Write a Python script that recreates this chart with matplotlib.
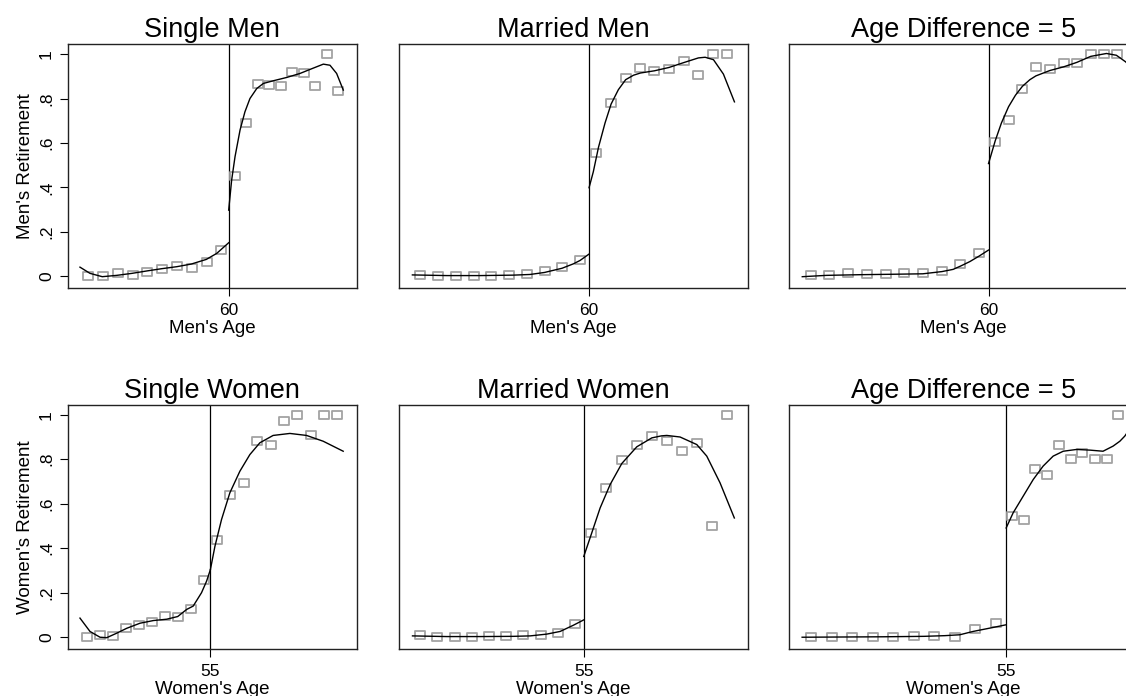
import matplotlib
matplotlib.use('Agg')
import matplotlib.pyplot as plt
from matplotlib.path import Path
import numpy as np

plt.rcParams['font.family'] = ['Liberation Sans', 'DejaVu Sans']

# ---- Single men (cutoff 60) ----
sm_age_pre = [50.5, 51.5, 52.5, 53.5, 54.5, 55.5, 56.5, 57.5, 58.5, 59.5]
sm_ret_pre = [0.0, 0.0, 0.012, 0.005, 0.02, 0.03, 0.045, 0.038, 0.062, 0.117]
sm_age_post = [60.45, 61.2, 61.96, 62.75, 63.54, 64.31, 65.08, 65.87, 66.66, 67.43]
sm_ret_post = [0.45, 0.69, 0.865, 0.86, 0.856, 0.92, 0.913, 0.856, 1.0, 0.833]
sm_fit_lx = [49.93, 50.61, 51.44, 52.42, 53.45, 54.47, 55.46, 56.48, 57.47, 58.49, 59.19, 60.0]
sm_fit_ly = [0.04, 0.012, -0.003, 0.003, 0.012, 0.023, 0.033, 0.042, 0.054, 0.075, 0.102, 0.15]
sm_fit_rx = [60.0, 60.2, 60.43, 60.77, 61.1, 61.44, 61.9, 62.35, 63.02, 63.93, 64.83, 65.5, 66.41, 66.86, 67.31, 67.76]
sm_fit_ry = [0.297, 0.432, 0.538, 0.658, 0.74, 0.8, 0.845, 0.868, 0.88, 0.895, 0.913, 0.931, 0.955, 0.95, 0.913, 0.838]

# ---- Married men ----
mm_age_pre = [50.5, 51.5, 52.5, 53.5, 54.5, 55.5, 56.5, 57.5, 58.5, 59.5]
mm_ret_pre = [0.003, 0.0, 0.0, 0.0, 0.0, 0.005, 0.008, 0.022, 0.042, 0.072]
mm_age_post = [60.39, 61.24, 62.06, 62.89, 63.68, 64.5, 65.33, 66.15, 66.96, 67.77]
mm_ret_post = [0.556, 0.78, 0.892, 0.937, 0.923, 0.932, 0.971, 0.904, 1.0, 1.0]
mm_fit_lx = [50.06, 51.99, 53.87, 55.74, 56.68, 57.49, 58.48, 59.12, 59.49, 60.0]
mm_fit_ly = [0.005, 0.002, 0.002, 0.004, 0.007, 0.016, 0.035, 0.055, 0.07, 0.099]
mm_fit_rx = [60.0, 60.24, 60.53, 60.9, 61.24, 61.65, 62.06, 62.5, 62.89, 63.68, 64.5, 65.33, 66.15, 66.53, 67.0, 67.56, 68.18]
mm_fit_ry = [0.398, 0.47, 0.58, 0.69, 0.775, 0.84, 0.885, 0.905, 0.915, 0.925, 0.94, 0.962, 0.983, 0.986, 0.975, 0.91, 0.785]

# ---- Men, age difference = 5 ----
md_age_pre = [50.5, 51.5, 52.5, 53.5, 54.5, 55.5, 56.5, 57.5, 58.5, 59.5]
md_ret_pre = [0.003, 0.003, 0.015, 0.009, 0.009, 0.012, 0.012, 0.024, 0.053, 0.102]
md_age_post = [60.36, 61.07, 61.81, 62.53, 63.27, 64.02, 64.72, 65.46, 66.17, 66.89]
md_ret_post = [0.605, 0.703, 0.845, 0.943, 0.935, 0.958, 0.958, 1.0, 1.0, 1.0]
md_fit_lx = [50.05, 51.35, 53.13, 54.91, 56.49, 57.51, 58.11, 58.51, 59.0, 59.5, 60.0]
md_fit_ly = [-0.003, 0.003, 0.006, 0.008, 0.01, 0.02, 0.03, 0.045, 0.065, 0.09, 0.117]
md_fit_rx = [60.0, 60.36, 60.69, 61.07, 61.44, 61.81, 62.21, 62.53, 63.27, 64.02, 64.72, 65.46, 66.3, 66.83, 67.33, 67.72]
md_fit_ry = [0.507, 0.61, 0.69, 0.763, 0.815, 0.855, 0.885, 0.902, 0.926, 0.943, 0.963, 0.99, 1.003, 0.995, 0.965, 0.93]

# ---- Single women (cutoff 55) ----
sw_age_pre = [45.5, 46.5, 47.5, 48.5, 49.5, 50.5, 51.5, 52.5, 53.5, 54.5]
sw_ret_pre = [0.0, 0.012, 0.006, 0.04, 0.053, 0.069, 0.096, 0.092, 0.126, 0.257]
sw_age_post = [55.51, 56.54, 57.59, 58.59, 59.64, 60.64, 61.67, 62.72, 63.74, 64.77]
sw_ret_post = [0.438, 0.641, 0.691, 0.881, 0.865, 0.974, 1.0, 0.91, 1.0, 1.0]
sw_fit_lx = [44.97, 45.74, 46.51, 47.03, 47.79, 48.56, 49.59, 50.62, 51.64, 52.49, 53.18, 53.68, 54.32, 54.71, 55.0]
sw_fit_ly = [0.086, 0.026, 0.0, -0.002, 0.018, 0.04, 0.063, 0.075, 0.081, 0.093, 0.125, 0.14, 0.2, 0.252, 0.303]
sw_fit_rx = [55.0, 55.35, 55.86, 56.5, 57.27, 58.04, 58.81, 59.83, 61.12, 62.4, 63.68, 65.22]
sw_fit_ry = [0.303, 0.408, 0.529, 0.649, 0.746, 0.821, 0.874, 0.907, 0.916, 0.907, 0.881, 0.836]

# ---- Married women ----
mw_age_pre = [45.5, 46.5, 47.5, 48.5, 49.5, 50.5, 51.5, 52.5, 53.5, 54.5]
mw_ret_pre = [0.009, 0.0, 0.0, 0.003, 0.005, 0.005, 0.009, 0.011, 0.021, 0.059]
mw_age_post = [55.43, 56.32, 57.21, 58.08, 58.95, 59.82, 60.69, 61.56, 62.43, 63.32]
mw_ret_post = [0.47, 0.67, 0.797, 0.862, 0.905, 0.88, 0.838, 0.874, 0.498, 1.0]
mw_fit_lx = [45.06, 47.05, 48.98, 50.92, 51.89, 52.85, 53.63, 54.4, 55.0]
mw_fit_ly = [0.006, 0.003, 0.003, 0.004, 0.006, 0.014, 0.026, 0.054, 0.078]
mw_fit_rx = [55.0, 55.43, 55.95, 56.53, 57.21, 58.08, 58.95, 59.5, 59.82, 60.59, 61.56, 62.14, 62.91, 63.74]
mw_fit_ry = [0.363, 0.461, 0.581, 0.686, 0.781, 0.856, 0.896, 0.905, 0.907, 0.9, 0.866, 0.814, 0.694, 0.536]

# ---- Women, age difference = 5 ----
wd_age_pre = [45.5, 46.5, 47.5, 48.5, 49.5, 50.5, 51.5, 52.5, 53.5, 54.5]
wd_ret_pre = [0.0, 0.0, 0.0, 0.002, 0.0, 0.005, 0.005, 0.0, 0.036, 0.062]
wd_age_post = [55.29, 55.86, 56.43, 57.0, 57.58, 58.17, 58.72, 59.32, 59.89, 60.47]
wd_ret_post = [0.545, 0.527, 0.754, 0.73, 0.865, 0.799, 0.83, 0.799, 0.799, 1.0]
wd_fit_lx = [45.06, 47.0, 49.0, 51.0, 52.0, 52.74, 53.39, 54.37, 55.0]
wd_fit_ly = [0.0, 0.001, 0.002, 0.004, 0.007, 0.011, 0.026, 0.044, 0.056]
wd_fit_rx = [55.0, 55.34, 55.83, 56.32, 56.8, 57.29, 57.78, 58.43, 59.08, 59.72, 60.21, 60.54, 60.78, 61.2]
wd_fit_ry = [0.491, 0.559, 0.634, 0.709, 0.769, 0.814, 0.836, 0.844, 0.841, 0.836, 0.859, 0.881, 0.904, 0.96]

yticks = [0, 0.2, 0.4, 0.6, 0.8, 1.0]
ytick_labels = ['0', '.2', '.4', '.6', '.8', '1']

# slightly wide hollow square
box = Path([(-0.59, -0.5), (0.59, -0.5), (0.59, 0.5), (-0.59, 0.5), (-0.59, -0.5)],
           [Path.MOVETO, Path.LINETO, Path.LINETO, Path.LINETO, Path.CLOSEPOLY])


def drawPanel(fig, rect, title, cutoff, xlim, ylim, pre, post, fitL, fitR, xlabel, ylabel=None):
    ax = fig.add_axes(rect)
    ax.plot(pre[0] + post[0], pre[1] + post[1], linestyle='none', marker=box,
            markersize=7.0, markerfacecolor='none', markeredgecolor='#a3a3a3',
            markeredgewidth=1.3, zorder=2)
    ax.plot(fitL[0], fitL[1], color='black', lw=1.0, zorder=3)
    ax.plot(fitR[0], fitR[1], color='black', lw=1.0, zorder=3)
    ax.axvline(cutoff, color='black', lw=0.9, zorder=1)
    ax.set_xlim(xlim)
    ax.set_ylim(ylim)
    ax.set_xticks([cutoff])
    ax.set_xticklabels([str(cutoff)])
    ax.tick_params(axis='x', length=6, width=0.8, pad=4.5, labelsize=12.5)
    if ylabel:
        ax.set_yticks(yticks)
        ax.set_yticklabels(ytick_labels)
        ax.tick_params(axis='y', length=6, width=0.8, pad=4.0, labelsize=12.5, labelrotation=90)
        for lab in ax.get_yticklabels():
            lab.set_va('center')
        ax.set_ylabel(ylabel, fontsize=13.5)
        ax.yaxis.set_label_coords(-0.118, 0.5)
    else:
        ax.set_yticks([])
    ax.set_title(title, fontsize=19.5, pad=5)
    ax.set_xlabel(xlabel, fontsize=13.5)
    ax.xaxis.set_label_coords(0.5, -0.131)
    for sp in ax.spines.values():
        sp.set_linewidth(1.0)
        sp.set_color('#222222')
    return ax


def main():
    fig = plt.figure(figsize=(11.26, 6.96), dpi=100)
    fig.patch.set_facecolor('white')

    topY, botY, h = 0.5862, 0.0675, 0.3513
    ytop = (-0.054, 1.048)
    ybot = (-0.053, 1.046)

    drawPanel(fig, [0.0604, topY, 0.2564, h], 'Single Men', 60, (49.12, 68.67), ytop,
              (sm_age_pre, sm_ret_pre), (sm_age_post, sm_ret_post),
              (sm_fit_lx, sm_fit_ly), (sm_fit_rx, sm_fit_ry), "Men's Age", "Men's Retirement")
    drawPanel(fig, [0.3544, topY, 0.3097, h], 'Married Men', 60, (49.31, 68.93), ytop,
              (mm_age_pre, mm_ret_pre), (mm_age_post, mm_ret_post),
              (mm_fit_lx, mm_fit_ly), (mm_fit_rx, mm_fit_ry), "Men's Age")
    drawPanel(fig, [0.7007, topY, 0.3097, h], 'Age Difference = 5', 60, (49.34, 67.97), ytop,
              (md_age_pre, md_ret_pre), (md_age_post, md_ret_post),
              (md_fit_lx, md_fit_ly), (md_fit_rx, md_fit_ry), "Men's Age")

    drawPanel(fig, [0.0604, botY, 0.2564, h], 'Single Women', 55, (44.05, 66.26), ybot,
              (sw_age_pre, sw_ret_pre), (sw_age_post, sw_ret_post),
              (sw_fit_lx, sw_fit_ly), (sw_fit_rx, sw_fit_ry), "Women's Age", "Women's Retirement")
    drawPanel(fig, [0.3544, botY, 0.3097, h], 'Married Women', 55, (44.28, 64.52), ybot,
              (mw_age_pre, mw_ret_pre), (mw_age_post, mw_ret_post),
              (mw_fit_lx, mw_fit_ly), (mw_fit_rx, mw_fit_ry), "Women's Age")
    drawPanel(fig, [0.7007, botY, 0.3097, h], 'Age Difference = 5', 55, (44.42, 61.41), ybot,
              (wd_age_pre, wd_ret_pre), (wd_age_post, wd_ret_post),
              (wd_fit_lx, wd_fit_ly), (wd_fit_rx, wd_fit_ry), "Women's Age")

    fig.savefig('out.png', dpi=100, facecolor='white')


if __name__ == '__main__':
    main()
